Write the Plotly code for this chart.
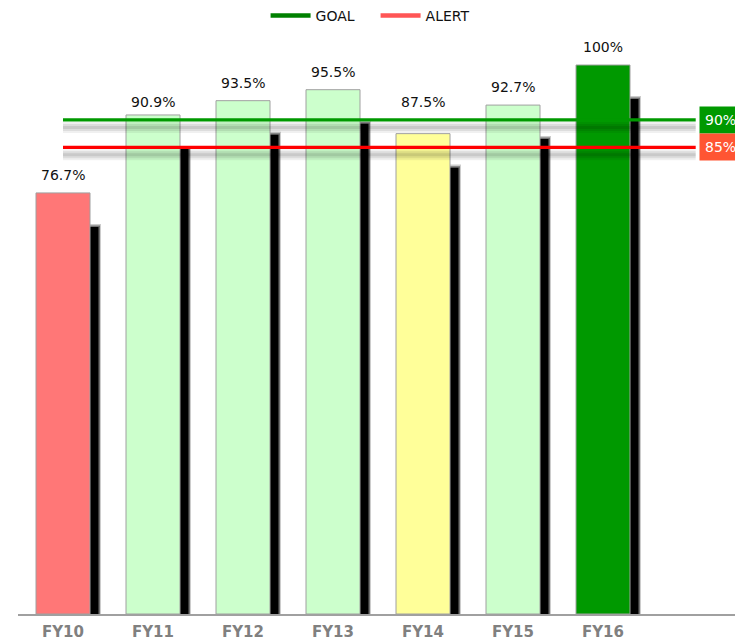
import plotly.graph_objects as go

categories = ["FY10", "FY11", "FY12", "FY13", "FY14", "FY15", "FY16"]
values = [76.7, 90.9, 93.5, 95.5, 87.5, 92.7, 100]
labels = ["76.7%", "90.9%", "93.5%", "95.5%", "87.5%", "92.7%", "100%"]
bar_colors = ["#FF7777", "#CCFFCC", "#CCFFCC", "#CCFFCC", "#FFFF99", "#CCFFCC", "#009900"]
goal = 90
alert = 85

FONT = "DejaVu Sans"
xs = list(range(len(categories)))
PX = 1 / 90.0  # one pixel in x units
PY = 1 / 5.49  # one pixel in y units

fig = go.Figure()

# bar shadows (blurred look via layers)
for dx, dy, op in [(11, 31, 0.2), (10, 32.5, 0.45), (8.5, 34, 1.0)]:
    fig.add_trace(go.Bar(
        x=xs, y=[v - dy * PY for v in values],
        width=0.6, offset=-0.3 + dx * PX,
        marker=dict(color=f"rgba(0,0,0,{op})", line=dict(width=0)),
        showlegend=False, hoverinfo="skip"))

# main bars
fig.add_trace(go.Bar(
    x=xs, y=values, width=0.6, offset=-0.3,
    marker=dict(color=bar_colors, line=dict(color="#A0A0A0", width=1)),
    showlegend=False))

line_x = [0, len(categories) - 1 + 1.03]

# line shadows
for val in [goal, alert]:
    for w, a in [(11, 0.06), (7, 0.08), (3, 0.09)]:
        fig.add_trace(go.Scatter(x=line_x, y=[val - 7.5 * PY] * 2, mode="lines",
                                 line=dict(color=f"rgba(0,0,0,{a})", width=w),
                                 showlegend=False, hoverinfo="skip"))

fig.add_trace(go.Scatter(x=line_x, y=[goal] * 2, mode="lines",
                         line=dict(color="#009900", width=3.3), showlegend=False))
fig.add_trace(go.Scatter(x=line_x, y=[alert] * 2, mode="lines",
                         line=dict(color="#FF0000", width=3.3), showlegend=False))

# legend entries
fig.add_trace(go.Scatter(x=[None], y=[None], mode="lines", name="GOAL",
                         line=dict(color="#008000", width=4.5)))
fig.add_trace(go.Scatter(x=[None], y=[None], mode="lines", name="ALERT",
                         line=dict(color="#FF5555", width=4.5)))

annotations = []
for x, v, t in zip(xs, values, labels):
    # labels that would collide with the reference lines sit above the goal line
    ly = goal if alert <= v < goal + 2 else v
    annotations.append(dict(x=x, y=ly, text=t, showarrow=False, yanchor="bottom",
                            yshift=8, font=dict(family=FONT, size=14, color="#111111")))
for val, col in [(goal, "#009900"), (alert, "#FF5533")]:
    annotations.append(dict(x=len(categories) - 1 + 1.07, y=val, text=f"{val}%",
                            showarrow=False, xanchor="left", yanchor="middle",
                            bgcolor=col, borderpad=5,
                            font=dict(family=FONT, size=14, color="white")))

fig.update_layout(
    width=735, height=641,
    margin=dict(l=18, r=0, t=40, b=27),
    plot_bgcolor="white", paper_bgcolor="white",
    barmode="overlay",
    showlegend=True,
    legend=dict(orientation="h", xref="container", yref="container",
                x=0.511, xanchor="center", y=1.0, yanchor="top",
                font=dict(family=FONT, size=14, color="#111111"),
                itemwidth=40, entrywidthmode="pixels", entrywidth=55),
    annotations=annotations,
    xaxis=dict(range=[-0.5, -0.5 + 717 / 90], tickmode="array", tickvals=xs,
               ticktext=categories, showgrid=False, zeroline=False,
               showline=True, linecolor="#A0A0A0", linewidth=2,
               automargin=False, ticklabelstandoff=3,
               tickfont=dict(family=FONT, size=15, color="#808080", weight="bold")),
    yaxis=dict(range=[0, 574 * PY], visible=False, showgrid=False, zeroline=False,
               automargin=False),
)

fig.write_html("out.html")
